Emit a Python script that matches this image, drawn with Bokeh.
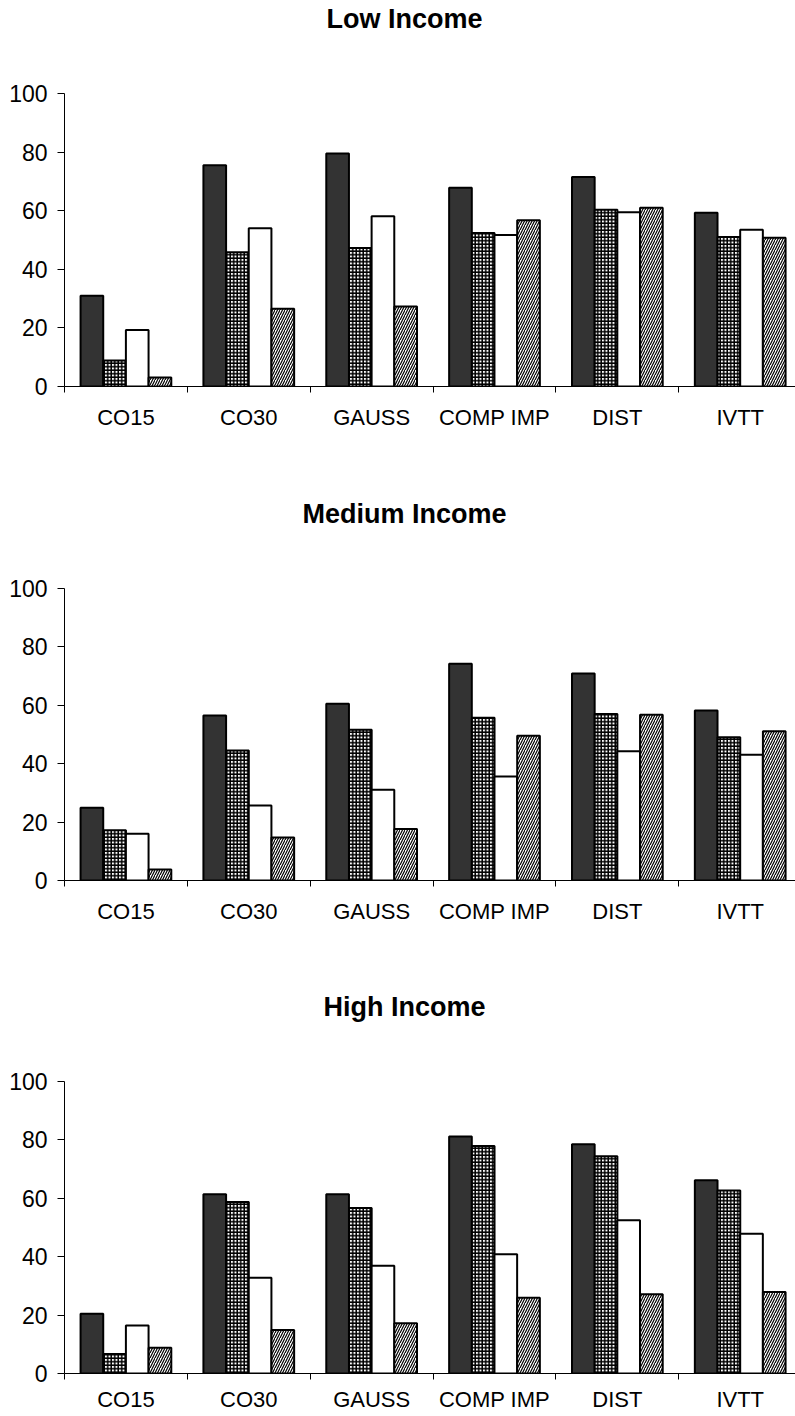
import numpy as np
from bokeh.plotting import figure
from bokeh.models import Range1d, FixedTicker, Title
from bokeh.layouts import column
from bokeh.embed import file_html
from bokeh.resources import INLINE

categories = ["CO15", "CO30", "GAUSS", "COMP IMP", "DIST", "IVTT"]
y_ticks = [0, 20, 40, 60, 80, 100]
panel_titles = ["Low Income", "Medium Income", "High Income"]

low_s1 = [31.0, 75.5, 79.5, 67.8, 71.5, 59.3]
low_s2 = [8.9, 45.8, 47.3, 52.4, 60.3, 51.0]
low_s3 = [19.3, 54.0, 58.1, 51.7, 59.5, 53.5]
low_s4 = [3.1, 26.5, 27.3, 56.7, 61.0, 50.8]

med_s1 = [24.9, 56.5, 60.5, 74.2, 70.9, 58.2]
med_s2 = [17.2, 44.5, 51.6, 55.7, 57.0, 49.1]
med_s3 = [16.0, 25.7, 31.1, 35.6, 44.3, 43.1]
med_s4 = [3.8, 14.7, 17.6, 49.6, 56.8, 51.1]

high_s1 = [20.5, 61.4, 61.4, 81.2, 78.5, 66.2]
high_s2 = [6.7, 58.7, 56.7, 77.9, 74.4, 62.7]
high_s3 = [16.4, 32.8, 36.9, 40.8, 52.5, 47.9]
high_s4 = [8.8, 14.9, 17.2, 25.9, 27.1, 27.9]

FONT = "Liberation Sans"
TITLE_PX = 27
# Arial/Liberation Sans Bold advance widths (per 1000 em) for centring titles
ADV = {"L": 611, "o": 611, "w": 778, " ": 278, "I": 278, "n": 611, "c": 556,
       "m": 889, "e": 556, "M": 833, "d": 611, "i": 278, "u": 611, "H": 722,
       "g": 611, "h": 611}
TITLE_CENTER = 340  # px from the frame's left edge

styles = [
    dict(fill_color="#333333"),
    dict(fill_color="white", hatch_pattern="+", hatch_color="black",
         hatch_scale=3.5, hatch_weight=1.5),
    dict(fill_color="white"),
    dict(fill_color="white", hatch_pattern="/", hatch_color="black",
         hatch_scale=5, hatch_weight=1.2),
]
offsets = [-0.277, -0.092, 0.092, 0.277]
bar_w = 0.1845


def make_panel(title, series, height, frame_h, label_standoff):
    n = len(categories)
    top_border = 93
    p = figure(width=795, height=height,
               x_range=Range1d(0, 5.95), y_range=Range1d(0, 100),
               output_backend="svg", toolbar_location=None,
               min_border_left=64, min_border_right=0,
               min_border_top=top_border,
               min_border_bottom=height - top_border - frame_h)
    p.grid.visible = False
    p.outline_line_color = None
    p.background_fill_color = "white"
    p.border_fill_color = "white"

    # spacer between the frame and the title
    p.add_layout(Title(text=" ", text_font_size="1px", standoff=57), "above")

    text_w = sum(ADV.get(ch, 600) for ch in title) * TITLE_PX / 1000.0
    p.title.text = title
    p.title.text_font = FONT
    p.title.text_font_size = f"{TITLE_PX}px"
    p.title.text_font_style = "bold"
    p.title.text_color = "black"
    p.title.align = "left"
    p.title.standoff = 0
    p.title.offset = TITLE_CENTER - text_w / 2.0

    for k, vals in enumerate(series):
        x = np.arange(n) + 0.5 + offsets[k]
        p.vbar(x=x, top=vals, bottom=0, width=bar_w,
               line_color="black", line_width=2, **styles[k])

    xa = p.xaxis[0]
    centers = [float(i) + 0.5 for i in range(n)]
    xa.ticker = FixedTicker(ticks=centers, minor_ticks=list(range(n + 1)))
    xa.major_label_overrides = {c: lab for c, lab in zip(centers, categories)}
    xa.major_tick_line_color = None
    xa.major_tick_out = 0
    xa.major_tick_in = 0
    xa.minor_tick_out = 6
    xa.minor_tick_in = 0
    xa.minor_tick_line_color = "black"
    xa.axis_line_color = "black"
    xa.major_label_text_font = FONT
    xa.major_label_text_font_size = "22px"
    xa.major_label_text_color = "black"
    xa.major_label_standoff = label_standoff

    ya = p.yaxis[0]
    ya.ticker = FixedTicker(ticks=y_ticks)
    ya.minor_tick_line_color = None
    ya.major_tick_out = 7
    ya.major_tick_in = 0
    ya.major_tick_line_color = "black"
    ya.axis_line_color = "black"
    ya.major_label_text_font = FONT
    ya.major_label_text_font_size = "23px"
    ya.major_label_text_color = "black"
    ya.major_label_standoff = 10
    return p


p1 = make_panel(panel_titles[0], [low_s1, low_s2, low_s3, low_s4], 495, 293, 12)
p2 = make_panel(panel_titles[1], [med_s1, med_s2, med_s3, med_s4], 493, 292, 12)
p3 = make_panel(panel_titles[2], [high_s1, high_s2, high_s3, high_s4], 426, 292, 7)

layout = column(p1, p2, p3)
open("out.html", "w").write(file_html(layout, INLINE))
